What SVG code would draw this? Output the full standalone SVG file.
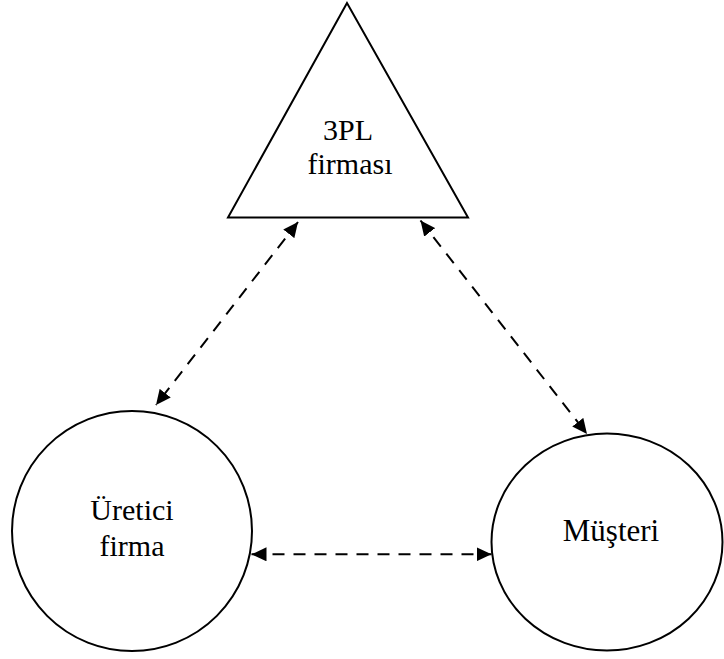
<svg xmlns="http://www.w3.org/2000/svg" width="724" height="659" viewBox="0 0 724 659">
  <style>
    .shape { fill: #ffffff; stroke: #000000; stroke-width: 2; }
    .label { font-family: "Liberation Serif", "Times New Roman", serif; font-size: 30px; fill: #000000; text-anchor: middle; }
    .link { stroke: #000000; stroke-width: 2; stroke-dasharray: 12 9; fill: none; marker-start: url(#arrow); marker-end: url(#arrow); }
  </style>
  <defs>
    <marker id="arrow" markerUnits="userSpaceOnUse" markerWidth="16" markerHeight="14" refX="15" refY="7" orient="auto-start-reverse" viewBox="0 0 16 14">
      <path d="M0,0 L15,7 L0,14 z" fill="#000000"/>
    </marker>
  </defs>

  <rect width="724" height="659" fill="#ffffff"/>

  <g id="node-3pl">
    <polygon class="shape" points="347,3 228,217.5 468,217.5"/>
    <text class="label" x="348" y="140">3PL</text>
    <text class="label" x="350" y="174">firması</text>
  </g>

  <g id="node-uretici">
    <circle class="shape" cx="132" cy="531" r="120"/>
    <text class="label" x="132" y="520">Üretici</text>
    <text class="label" x="132" y="556">firma</text>
  </g>

  <g id="node-musteri">
    <ellipse class="shape" cx="607" cy="542" rx="115.5" ry="108.5"/>
    <text class="label" x="611" y="541" style="font-size:31px">Müşteri</text>
  </g>

  <g id="connectors">
    <line class="link" x1="298" y1="222" x2="156" y2="405"/>
    <line class="link" x1="420.5" y1="220.5" x2="587" y2="434"/>
    <line class="link" x1="251.5" y1="554.3" x2="491.5" y2="554.3"/>
  </g>
</svg>
